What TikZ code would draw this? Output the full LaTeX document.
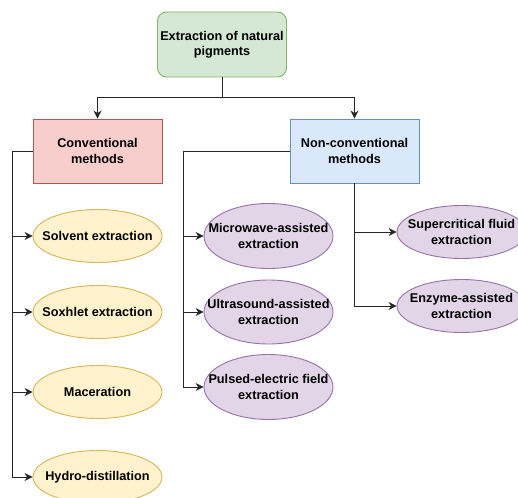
\documentclass[tikz,border=0pt]{standalone}
\usepackage{fontspec}
\setmainfont{Liberation Sans}
\usetikzlibrary{arrows.meta,shapes.geometric}
\definecolor{gfill}{HTML}{D5E8D4}\definecolor{gline}{HTML}{82B366}
\definecolor{rfill}{HTML}{F8CECC}\definecolor{rline}{HTML}{B85450}
\definecolor{bfill}{HTML}{DAE8FC}\definecolor{bline}{HTML}{6C8EBF}
\definecolor{yfill}{HTML}{FFF2CC}\definecolor{yline}{HTML}{D6B656}
\definecolor{pfill}{HTML}{E1D5E7}\definecolor{pline}{HTML}{9673A6}
\begin{document}
\begin{tikzpicture}[x=1pt,y=-1pt,
  every node/.style={font=\fontsize{12.7}{15.5}\selectfont\bfseries, align=center, text=black},
  boxnode/.style={draw, line width=0.9pt, minimum width=129pt, minimum height=64pt, inner sep=0pt},
  ell/.style={ellipse, draw, line width=0.9pt, minimum width=129pt, minimum height=#1, inner sep=0pt},
  ell/.default=53pt,
  lbl/.style={align=center},
  conn/.style={draw=black!85, line width=1pt},
  arr/.style={conn, -{Stealth[length=8pt,width=8pt]}}]
\useasboundingbox (0,0) rectangle (518,497);
\clip (0,0) rectangle (518,497);
% main boxes
\node[boxnode, rounded corners=9pt, fill=gfill, draw=gline, minimum height=65pt] (top) at (222,44.5) {Extraction of natural\\pigments};
\node[boxnode, fill=rfill, draw=rline] (conv) at (97.5,151) {Conventional\\methods};
\node[boxnode, fill=bfill, draw=bline] (nonc) at (354.5,151) {Non-conventional\\methods};
% conventional methods
\node[ell, fill=yfill, draw=yline, label={[lbl]center:Solvent extraction}] (solv) at (97.5,236) {};
\node[ell, fill=yfill, draw=yline, label={[lbl]center:Soxhlet extraction}] (soxh) at (97.5,312) {};
\node[ell, fill=yfill, draw=yline, label={[lbl]center:Maceration}] (mace) at (97.5,392) {};
\node[ell, fill=yfill, draw=yline, label={[lbl]center:Hydro-distillation}] (hydr) at (97.5,477) {};
% non-conventional methods
\node[ell=65pt, fill=pfill, draw=pline, label={[lbl]center:Microwave-assisted\\extraction}] (micr) at (268.5,236) {};
\node[ell=64pt, fill=pfill, draw=pline, label={[lbl]center:Ultrasound-assisted\\extraction}] (ultr) at (268.5,312) {};
\node[ell=65pt, fill=pfill, draw=pline, label={[lbl]center:Pulsed-electric field\\extraction}] (puls) at (268.5,387) {};
\node[ell, fill=pfill, draw=pline, label={[lbl]center:Supercritical fluid\\extraction}] (supe) at (461.5,232) {};
\node[ell, fill=pfill, draw=pline, label={[lbl]center:Enzyme-assisted\\extraction}] (enzy) at (461.5,306) {};
% connectors
\coordinate (j) at (222,98);
\draw[conn] (top.south) -- (j);
\draw[arr] (j) -| (conv.north);
\draw[arr] (j) -| (nonc.north);
\coordinate (ls) at (12,151);
\draw[conn] (conv.west) -- (ls);
\draw[arr] (ls) |- (solv.west);
\draw[arr] (ls) |- (soxh.west);
\draw[arr] (ls) |- (mace.west);
\draw[arr] (ls) |- (hydr.west);
\coordinate (ms) at (183,151);
\draw[conn] (nonc.west) -- (ms);
\draw[arr] (ms) |- (micr.west);
\draw[arr] (ms) |- (ultr.west);
\draw[arr] (ms) |- (puls.west);
\draw[arr] (nonc.south) |- (supe.west);
\draw[arr] (nonc.south) |- (enzy.west);
\end{tikzpicture}
\end{document}
